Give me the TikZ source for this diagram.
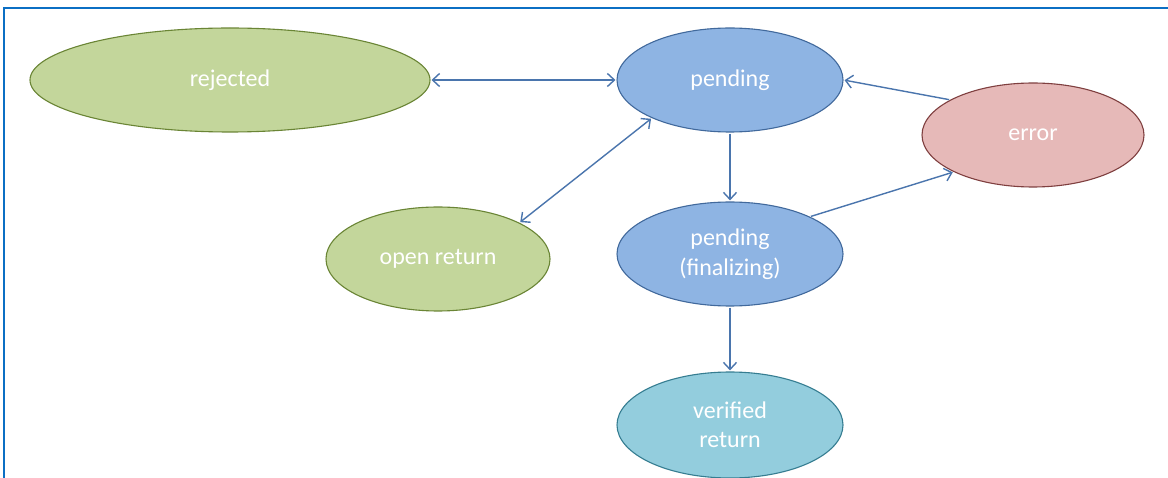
\documentclass[tikz,border=0pt]{standalone}
\usepackage{fontspec}
\setmainfont{Carlito}
\usetikzlibrary{shapes.geometric,arrows.meta}
\definecolor{greenfill}{HTML}{C3D69B}
\definecolor{greenline}{HTML}{6A8535}
\definecolor{bluefill}{HTML}{8EB4E3}
\definecolor{blueline}{HTML}{41699C}
\definecolor{redfill}{HTML}{E6B9B8}
\definecolor{redline}{HTML}{7F3F3F}
\definecolor{tealfill}{HTML}{93CDDD}
\definecolor{tealline}{HTML}{357D91}
\definecolor{arrowcol}{HTML}{4A75AD}
\definecolor{framecol}{HTML}{0B6FC4}
\tikzset{
  state/.style={ellipse, draw, line width=1.1pt, inner sep=0pt, text=white,
    font=\fontsize{24}{29.5}\selectfont, align=center},
  greenstate/.style={state, fill=greenfill, draw=greenline},
  bluestate/.style={state, fill=bluefill, draw=blueline},
  redstate/.style={state, fill=redfill, draw=redline},
  tealstate/.style={state, fill=tealfill, draw=tealline},
  conn/.style={draw=arrowcol, line width=1.4pt, shorten <=1pt, shorten >=1pt},
  tip/.tip={Straight Barb[length=7pt,width=13pt,line width=1.4pt]}
}
\begin{document}
\begin{tikzpicture}[x=1pt,y=-1pt]
\useasboundingbox (0,0) rectangle (1168,478);
\fill[white] (0,0) rectangle (1168,478);
% frame
\draw[framecol, line width=2.6pt] (4,478) -- (4,8) -- (1168,8);
% states
\node[greenstate, minimum width=400pt, minimum height=104pt] (rejected) at (230,80) {rejected};
\node[bluestate, minimum width=226pt, minimum height=104pt] (pending) at (730,80) {pending};
\node[redstate, minimum width=222pt, minimum height=104pt] (error) at (1033,135) {error};
\node[greenstate, minimum width=224pt, minimum height=104pt] (open) at (438,259) {open return};
\node[bluestate, minimum width=226pt, minimum height=104pt] (fin) at (730,254) {pending\\(finalizing)};
\node[tealstate, minimum width=226pt, minimum height=106pt] (verified) at (730,425) {verified\\return};
% connectors
\draw[conn, tip-tip] (rejected) -- (pending);
\draw[conn, tip-tip] (pending.206) -- (open.24);
\draw[conn, -tip] (pending) -- (fin);
\draw[conn, -tip] (error.157) -- (pending.east);
\draw[conn, -tip] (fin.25) -- (error.205);
\draw[conn, -tip] (fin.south) -- (verified.north);
\end{tikzpicture}
\end{document}
